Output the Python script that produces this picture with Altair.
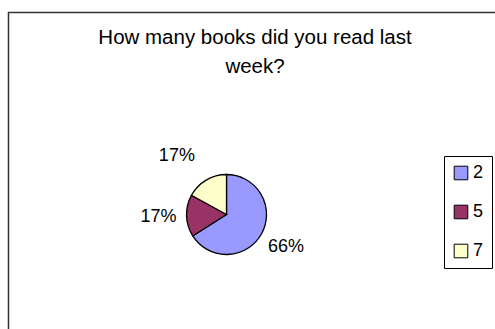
import altair as alt
import pandas as pd

# Survey answers and their shares (percent)
answers = ["2", "5", "7"]
shares = [66, 17, 17]
slice_colors = ["#9999FF", "#993366", "#FFFFCC"]
title_lines = ["How many books did you read last", "week?"]

df = pd.DataFrame({"answer": answers, "share": shares, "rank": list(range(len(answers)))})
df["label"] = [f"{v}%" for v in shares]
total = sum(shares)

FONT = "Liberation Sans"
CX, CY = 226.5, 214.5
TWO_PI = 6.283185307179586

pie = alt.Chart(df).mark_arc(outerRadius=40, stroke="black", strokeWidth=1.3).encode(
    theta=alt.Theta("share:Q", stack=True),
    order=alt.Order("rank:Q"),
    x=alt.value(CX),
    y=alt.value(CY),
    color=alt.Color(
        "answer:N",
        scale=alt.Scale(domain=answers, range=slice_colors),
        legend=alt.Legend(
            title=None,
            orient="none",
            legendX=444,
            legendY=156,
            padding=8,
            strokeColor="#000000",
            fillColor="#FFFFFF",
            symbolType="square",
            symbolSize=185,
            symbolStrokeColor="#000000",
            symbolStrokeWidth=1,
            symbolOpacity=1,
            labelFont=FONT,
            labelFontSize=18,
            labelColor="#000000",
            labelOffset=3,
            rowPadding=21,
        ),
    ),
)

# Slice mid-angles computed explicitly so labels can be filtered per slice
label_base = alt.Chart(df).transform_window(
    cum="sum(share)", sort=[alt.SortField("rank")]
).transform_calculate(
    mid="datum.cum - datum.share / 2"
).encode(
    theta=alt.Theta("mid:Q", stack=None, scale=alt.Scale(domain=[0, total], range=[0, TWO_PI])),
    x=alt.value(CX),
    y=alt.value(CY),
    text="label:N",
)

label_style = dict(font=FONT, fontSize=18, color="#000000", radius=68)

labels_main = label_base.mark_text(**label_style).transform_filter(alt.datum.answer != "7")
labels_top = label_base.mark_text(dx=-15, **label_style).transform_filter(alt.datum.answer == "7")

title = alt.Chart(pd.DataFrame({"t": [0]})).mark_text(
    text=title_lines,
    font=FONT,
    fontSize=20.5,
    lineHeight=29,
    baseline="alphabetic",
    align="center",
    color="#000000",
).encode(x=alt.value(255), y=alt.value(44))

frame = alt.Chart(pd.DataFrame({"t": [0]})).mark_rect(
    fill=None, stroke="#333333", strokeWidth=1.5
).encode(x=alt.value(8.5), y=alt.value(12.5), x2=alt.value(700), y2=alt.value(700))

chart = alt.layer(frame, pie, labels_main, labels_top, title).properties(
    width=495,
    height=329,
    padding=0,
    autosize=alt.AutoSizeParams(type="none"),
).configure_view(stroke=None)

chart.save("out.html", embed_options={"renderer": "svg", "actions": False})
